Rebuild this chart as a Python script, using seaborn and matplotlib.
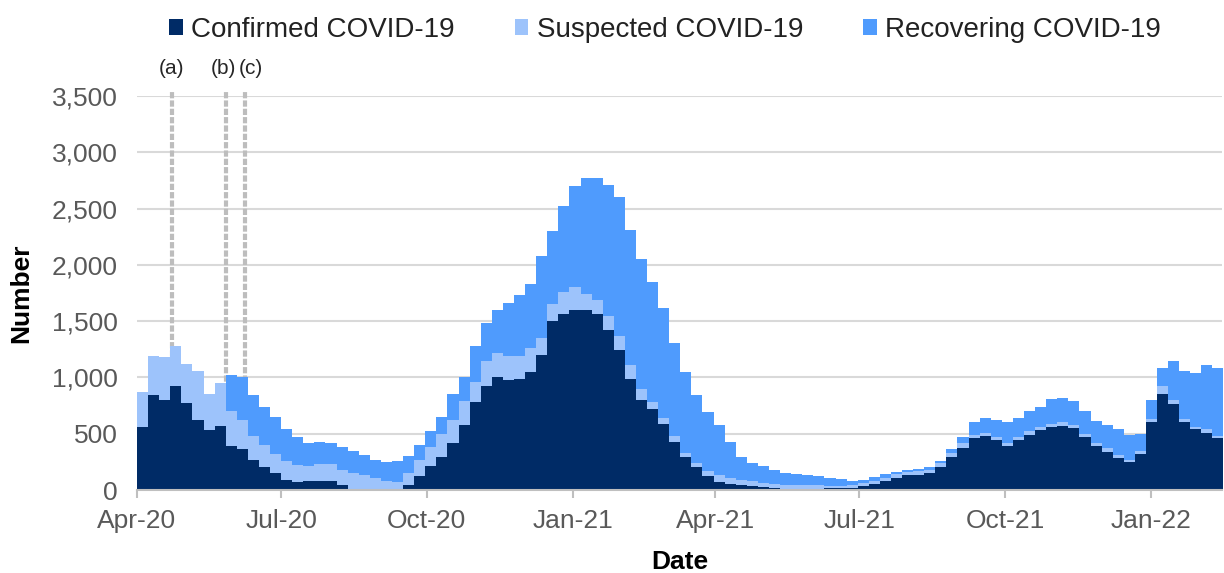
import matplotlib
matplotlib.use("Agg")
import matplotlib.pyplot as plt
import matplotlib.dates as mdates
import matplotlib.transforms as mtransforms
from matplotlib.patches import Patch
from matplotlib.ticker import FuncFormatter, MultipleLocator
import numpy as np
import pandas as pd
import seaborn as sns

# ---------------- data (weekly values) ----------------
start_date = "2020-04-01"
end_date = "2022-02-15"
n_weeks = 98

confirmed = [
    560, 840, 800, 920, 770, 620, 530, 570, 390, 360,
    265, 205, 150, 90, 73, 80, 80, 80, 45, 8,
    0, 0, 0, 3, 40, 120, 210, 290, 420, 580,
    780, 920, 1000, 980, 990, 1050, 1200, 1500, 1560, 1600,
    1596, 1560, 1420, 1240, 990, 800, 720, 590, 430, 290,
    200, 120, 75, 55, 40, 32, 25, 18, 12, 7,
    6, 8, 14, 15, 20, 35, 50, 80, 110, 130,
    135, 150, 200, 290, 370, 460, 480, 440, 395, 440,
    490, 530, 560, 570, 550, 470, 390, 340, 285, 250,
    320, 600, 850, 760, 600, 540, 510, 460,
]
suspected = [
    310, 350, 380, 360, 350, 440, 320, 380, 310, 260,
    215, 195, 170, 170, 152, 130, 155, 150, 135, 142,
    130, 110, 80, 72, 110, 150, 170, 210, 200, 210,
    180, 230, 220, 210, 200, 210, 150, 150, 200, 200,
    145, 130, 130, 130, 120, 100, 60, 50, 50, 40,
    40, 50, 60, 50, 48, 44, 37, 32, 32, 37,
    38, 34, 22, 20, 25, 27, 30, 30, 30, 30,
    30, 30, 40, 40, 50, 30, 30, 30, 25, 30,
    30, 30, 30, 30, 30, 30, 30, 30, 25, 20,
    25, 30, 70, 40, 30, 20, 30, 20,
]
recovering = [
    0, 0, 0, 0, 0, 0, 0, 0, 320, 380,
    360, 340, 330, 280, 245, 205, 195, 190, 205, 200,
    180, 160, 170, 183, 150, 130, 140, 150, 230, 210,
    320, 330, 380, 470, 540, 570, 730, 650, 760, 900,
    1030, 1080, 1160, 1230, 1200, 1150, 1070, 980, 830, 720,
    600, 520, 445, 325, 202, 164, 148, 130, 106, 101,
    91, 78, 72, 60, 35, 28, 38, 30, 20, 20,
    20, 20, 20, 30, 50, 110, 130, 150, 180, 170,
    180, 180, 215, 215, 210, 200, 190, 205, 235, 220,
    155, 170, 160, 350, 430, 480, 570, 600,
]

series_names = ["Confirmed COVID-19", "Suspected COVID-19", "Recovering COVID-19"]
series_colors = ["#002B66", "#9DC3FB", "#4F9BFD"]

event_labels = ["(a)", "(b)", "(c)"]
event_dates = ["2020-04-23", "2020-05-27", "2020-06-08"]

x_tick_dates = pd.date_range("2020-04-01", "2022-01-01", freq="QS")

# ---------------- styling ----------------
sns.set_theme(style="white")
plt.rcParams["font.family"] = ["Liberation Sans", "DejaVu Sans"]

fig = plt.figure(figsize=(12.24, 5.73), dpi=100)
W, H = 1224, 573
ax = fig.add_axes([137 / W, 1 - 490 / H, (1222 - 137) / W, (490 - 96) / H])

edges = mdates.date2num(pd.date_range(start_date, periods=n_weeks + 1, freq="7D"))
centers = (edges[:-1] + edges[1:]) / 2

c = np.array(confirmed, dtype=float)
s = np.array(suspected, dtype=float)
r = np.array(recovering, dtype=float)
layers = [c + s + r, c + s, c]
layer_colors = [series_colors[2], series_colors[1], series_colors[0]]

for vals, col in zip(layers, layer_colors):
    df = pd.DataFrame({"x": centers, "w": vals})
    sns.histplot(data=df, x="x", weights="w", binwidth=7,
                 binrange=(float(edges[0]), float(edges[-1])), element="step", fill=True,
                 color=col, alpha=1, linewidth=0, ax=ax, zorder=2)

# event lines + labels
label_offsets = [0, -2, 6]  # pixel offsets of the labels from their lines
trans = mtransforms.blended_transform_factory(ax.transData, ax.transAxes)
for lab, d, off in zip(event_labels, event_dates, label_offsets):
    xd = mdates.date2num(pd.Timestamp(d))
    ax.axvline(xd, ymin=0, ymax=1.01, color="#BDBDBD", lw=3,
               linestyle=(0, (1.5, 0.5)), zorder=1.5, clip_on=False)
    ax.annotate(lab, xy=(xd, 1.071), xycoords=trans, xytext=(off * 0.72, 0),
                textcoords="offset points", ha="center", va="center",
                fontsize=15, color="#262626", annotation_clip=False)

ax.set_xlim(edges[0], mdates.date2num(pd.Timestamp(end_date)))
ax.set_ylim(0, 3500)
ax.yaxis.set_major_locator(MultipleLocator(500))
ax.yaxis.set_major_formatter(FuncFormatter(lambda v, _: f"{int(v):,}"))
ax.set_xticks(mdates.date2num(x_tick_dates))
ax.xaxis.set_major_formatter(mdates.DateFormatter("%b-%y"))

ax.set_axisbelow(True)
ax.grid(axis="y", color="#D9D9D9", lw=1.5)
ax.grid(axis="x", visible=False)
for sp in ["top", "right", "left"]:
    ax.spines[sp].set_visible(False)
ax.spines["bottom"].set_color("#BFBFBF")
ax.spines["bottom"].set_linewidth(1.5)
ax.spines["bottom"].set_zorder(3)

ax.tick_params(axis="x", length=6, width=1.5, color="#BFBFBF", labelsize=19,
               labelcolor="#595959", pad=8, bottom=True)
ax.tick_params(axis="y", length=0, labelsize=19, labelcolor="#595959", pad=14)

ax.set_ylabel("Number", fontsize=19, fontweight="bold", color="black")
ax.set_xlabel("Date", fontsize=19, fontweight="bold", color="black")
ax.yaxis.set_label_coords((33 - 137) / (1222 - 137), 0.5)
ax.xaxis.set_label_coords(0.5, (490 - 550) / (490 - 96))

handles = [Patch(facecolor=col, edgecolor="none", label=name)
           for name, col in zip(series_names, series_colors)]
leg = fig.legend(handles=handles, loc="center", bbox_to_anchor=(665 / W, 1 - 30 / H),
                 ncol=3, frameon=False, fontsize=20, handlelength=0.5, handleheight=0.5,
                 handletextpad=0.3, columnspacing=2.15)
for t in leg.get_texts():
    t.set_color("#222222")

fig.savefig("out.png", dpi=100)
